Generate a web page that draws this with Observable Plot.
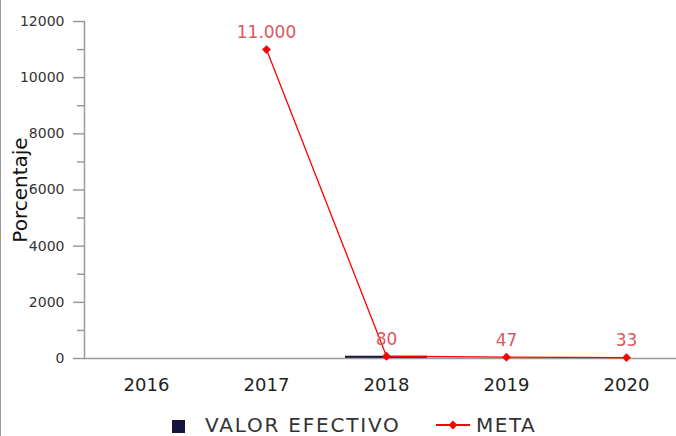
<!DOCTYPE html>
<html>
<head>
<meta charset="utf-8">
<script src="https://cdn.jsdelivr.net/npm/d3@7"></script>
<script src="https://cdn.jsdelivr.net/npm/@observablehq/plot@0.6"></script>
<style>
  html, body { margin: 0; padding: 0; background: #fff; }
  #wrap { position: relative; width: 676px; height: 436px; overflow: hidden; font-family: "DejaVu Sans", sans-serif; }
  #wrap .edge { position: absolute; left: 0; top: 0; width: 1px; height: 436px; background: #9a9a9a; }
  #legend { position: absolute; left: 0; top: 400px; width: 676px; height: 36px; }
  #legend .item { position: absolute; top: 15px; height: 20px; line-height: 20px; display: flex; align-items: center; font-size: 20px; color: #333; }
</style>
</head>
<body>
<div id="wrap">
  <div id="chart"></div>
  <div id="legend"></div>
  <div class="edge"></div>
</div>
<script>
const years = ["2016", "2017", "2018", "2019", "2020"];
const valorEfectivo = [null, null, 80, null, null];
const meta = [null, 11000, 80, 47, 33];
const yTicks = [0, 2000, 4000, 6000, 8000, 10000, 12000];
const yMinorTicks = [1000, 3000, 5000, 7000, 9000, 11000];
const seriesNames = ["VALOR EFECTIVO", "META"];
const seriesColors = ["#14143f", "#ff0000"];
const labelColor = "#d9575f";

const esFormat = d3.formatLocale({decimal: ",", thousands: ".", grouping: [3], currency: ["", ""]}).format(",d");

const barData = years.map((y, i) => ({year: y, value: valorEfectivo[i]})).filter(d => d.value != null);
const metaData = years.map((y, i) => ({year: y, value: meta[i]})).filter(d => d.value != null);

const plot = Plot.plot({
  width: 676,
  height: 400,
  marginLeft: 84,
  marginRight: 0,
  marginTop: 21,
  marginBottom: 42,
  style: {fontFamily: "DejaVu Sans", background: "transparent"},
  x: {domain: years, range: [86, 686], paddingInner: 0.32, paddingOuter: 0.16},
  y: {domain: [0, 12000]},
  marks: [
    Plot.frame({anchor: "left", stroke: "#9a9a9a", strokeWidth: 1.5}),
    Plot.axisY({ticks: yMinorTicks, tickSize: 7, tickFormat: () => "", stroke: "#9a9a9a", strokeWidth: 1.5, label: null}),
    Plot.axisY({ticks: yTicks, tickSize: 11, tickPadding: 9, tickFormat: d => String(d), stroke: "#9a9a9a", strokeWidth: 1.5, fill: "#333", fontSize: 14, letterSpacing: "0.8px", label: null}),
    Plot.axisX({tickSize: 0, tickPadding: 20, fontSize: 18, fill: "#222", letterSpacing: "0.5px", label: null}),
    Plot.text(["Porcentaje"], {text: d => d, frameAnchor: "left", textAnchor: "middle", rotate: -90, dx: -64, fontSize: 20, fill: "#111", letterSpacing: "0.5px"}),
    Plot.barY(barData, {x: "year", y: "value", fill: seriesColors[0]}),
    Plot.ruleY([0], {stroke: "#9a9a9a", strokeWidth: 1.5}),
    Plot.line(metaData, {x: "year", y: "value", stroke: seriesColors[1], strokeWidth: 1.3}),
    Plot.dot(metaData, {x: "year", y: "value", symbol: "diamond2", r: 4, fill: seriesColors[1], stroke: "none"}),
    Plot.text(metaData, {x: "year", y: "value", text: d => esFormat(d.value), dy: -17, fontSize: 17, fill: labelColor, letterSpacing: "0.5px"})
  ]
});
document.getElementById("chart").appendChild(plot);

const legend = document.getElementById("legend");
const item1 = document.createElement("div");
item1.className = "item";
item1.style.left = "172px";
item1.innerHTML = `<span style="display:inline-block;width:13px;height:13px;background:${seriesColors[0]};margin-right:20px;margin-top:3px"></span><span style="letter-spacing:1.8px">${seriesNames[0]}</span>`;
legend.appendChild(item1);
const item2 = document.createElement("div");
item2.className = "item";
item2.style.left = "436px";
item2.innerHTML = `<svg width="34" height="12" style="margin-right:6px"><line x1="0" y1="6" x2="34" y2="6" stroke="${seriesColors[1]}" stroke-width="2"/><path d="M17,1.5 L21.5,6 L17,10.5 L12.5,6 Z" fill="${seriesColors[1]}"/></svg><span style="letter-spacing:1.5px">${seriesNames[1]}</span>`;
legend.appendChild(item2);
</script>
</body>
</html>
